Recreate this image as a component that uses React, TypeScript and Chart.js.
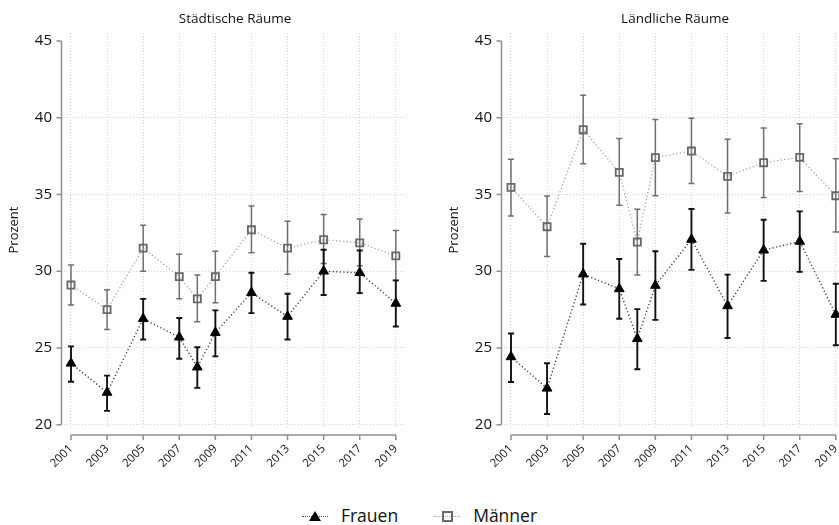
import React, { useEffect, useRef } from "react";
import { Chart, registerables } from "chart.js";

Chart.register(...registerables);

const years = [2001, 2003, 2005, 2007, 2008, 2009, 2011, 2013, 2015, 2017, 2019];
const xTickYears = [2001, 2003, 2005, 2007, 2009, 2011, 2013, 2015, 2017, 2019];
const yTickValues = [20, 25, 30, 35, 40, 45];

const urbanWomen = [24.0, 22.1, 26.9, 25.7, 23.75, 26.0, 28.6, 27.05, 30.0, 29.9, 27.9];
const urbanWomenLow = [22.8, 20.9, 25.55, 24.3, 22.4, 24.45, 27.27, 25.55, 28.45, 28.57, 26.4];
const urbanWomenHigh = [25.1, 23.2, 28.2, 26.95, 25.05, 27.45, 29.9, 28.53, 31.4, 31.35, 29.4];
const urbanMen = [29.1, 27.5, 31.5, 29.65, 28.2, 29.65, 32.7, 31.5, 32.05, 31.85, 31.0];
const urbanMenLow = [27.8, 26.2, 30.0, 28.2, 26.7, 27.95, 31.2, 29.8, 30.5, 30.35, 29.4];
const urbanMenHigh = [30.4, 28.8, 33.0, 31.1, 29.75, 31.3, 34.25, 33.25, 33.7, 33.4, 32.65];

const ruralWomen = [24.42, 22.37, 29.81, 28.85, 25.6, 29.07, 32.07, 27.74, 31.37, 31.94, 27.18];
const ruralWomenLow = [22.78, 20.7, 27.83, 26.9, 23.61, 26.83, 30.09, 25.65, 29.37, 29.96, 25.18];
const ruralWomenHigh = [25.94, 24.0, 31.79, 30.8, 27.53, 31.3, 34.05, 29.78, 33.35, 33.9, 29.18];
const ruralMen = [35.46, 32.9, 39.22, 36.44, 31.9, 37.4, 37.83, 36.18, 37.07, 37.42, 34.92];
const ruralMenLow = [33.6, 30.96, 37.0, 34.3, 29.75, 34.92, 35.72, 33.8, 34.8, 35.2, 32.55];
const ruralMenHigh = [37.3, 34.9, 41.46, 38.64, 34.03, 39.88, 39.96, 38.6, 39.33, 39.6, 37.33];

const FONT = '"Open Sans", "Noto Sans", sans-serif';

type PanelProps = {
  title: string;
  left: number;
  women: number[];
  womenLow: number[];
  womenHigh: number[];
  men: number[];
  menLow: number[];
  menHigh: number[];
};

function Panel(props: PanelProps) {
  const ref = useRef<HTMLCanvasElement>(null);
  useEffect(() => {
    const canvas = ref.current!;
    const { title, women, womenLow, womenHigh, men, menLow, menHigh } = props;

    const errorBars = {
      id: "errorBars",
      beforeDatasetsDraw(chart: any) {
        const ctx = chart.ctx;
        const xs = chart.scales.x;
        const ys = chart.scales.y;
        const sets = [
          { lo: menLow, hi: menHigh, color: "#6f6f6f", width: 1.5 },
          { lo: womenLow, hi: womenHigh, color: "#111", width: 1.9 },
        ];
        ctx.save();
        for (const s of sets) {
          ctx.strokeStyle = s.color;
          ctx.lineWidth = s.width;
          ctx.setLineDash([]);
          years.forEach((yr, i) => {
            const x = xs.getPixelForValue(yr);
            const y1 = ys.getPixelForValue(s.lo[i]);
            const y2 = ys.getPixelForValue(s.hi[i]);
            ctx.beginPath();
            ctx.moveTo(x, y1);
            ctx.lineTo(x, y2);
            ctx.moveTo(x - 3, y1);
            ctx.lineTo(x + 3, y1);
            ctx.moveTo(x - 3, y2);
            ctx.lineTo(x + 3, y2);
            ctx.stroke();
          });
        }
        ctx.restore();
      },
    };

    const axesAndTitle = {
      id: "axesAndTitle",
      afterDraw(chart: any) {
        const ctx = chart.ctx;
        const xs = chart.scales.x;
        const ys = chart.scales.y;
        const ca = chart.chartArea;
        ctx.save();
        ctx.strokeStyle = "#8e8e8e";
        ctx.lineWidth = 1.5;
        ctx.setLineDash([]);
        const ax = ca.left - 2.5;
        const yTop = ys.getPixelForValue(yTickValues[yTickValues.length - 1]);
        const yBot = ys.getPixelForValue(yTickValues[0]);
        ctx.beginPath();
        ctx.moveTo(ax, yTop);
        ctx.lineTo(ax, yBot);
        yTickValues.forEach((v) => {
          const p = ys.getPixelForValue(v);
          ctx.moveTo(ax, p);
          ctx.lineTo(ax - 5, p);
        });
        ctx.stroke();
        const ay = ca.bottom + 8;
        const xL = xs.getPixelForValue(xTickYears[0]);
        const xR = xs.getPixelForValue(xTickYears[xTickYears.length - 1]);
        ctx.beginPath();
        ctx.moveTo(xL, ay);
        ctx.lineTo(xR, ay);
        xTickYears.forEach((v) => {
          const p = xs.getPixelForValue(v);
          ctx.moveTo(p, ay);
          ctx.lineTo(p, ay + 5);
        });
        ctx.stroke();
        ctx.fillStyle = "#111";
        ctx.font = `13.5px ${FONT}`;
        ctx.textAlign = "center";
        ctx.textBaseline = "middle";
        ctx.fillText(title, (ca.left + ca.right) / 2, 19);
        ctx.restore();
      },
    };

    const chart = new Chart(canvas, {
      type: "line",
      data: {
        datasets: [
          {
            label: "Männer",
            data: years.map((x, i) => ({ x, y: men[i] })),
            borderColor: "#a0a0a0",
            borderWidth: 1.3,
            borderDash: [1.2, 2.4],
            pointStyle: "rect",
            pointRadius: 5,
            pointBorderColor: "#676767",
            pointBackgroundColor: "rgba(255,255,255,0)",
            pointBorderWidth: 1.8,
            tension: 0,
            fill: false,
          },
          {
            label: "Frauen",
            data: years.map((x, i) => ({ x, y: women[i] })),
            borderColor: "#3a3a3a",
            borderWidth: 1.4,
            borderDash: [1.2, 2.4],
            pointStyle: "triangle",
            pointRadius: 5.6,
            pointBorderColor: "#000",
            pointBackgroundColor: "#000",
            pointBorderWidth: 1,
            tension: 0,
            fill: false,
          },
        ],
      },
      options: {
        animation: false,
        responsive: true,
        maintainAspectRatio: false,
        events: [],
        layout: { padding: { top: 33, right: 14, bottom: 0, left: 0 } },
        plugins: {
          legend: { display: false },
          tooltip: { enabled: false },
          title: { display: false },
        },
        scales: {
          x: {
            type: "linear",
            min: 2000.613,
            max: 2019.57,
            afterBuildTicks: (s: any) => {
              s.ticks = xTickYears.map((v) => ({ value: v }));
            },
            afterFit: (s: any) => {
              s.height = 43;
            },
            ticks: {
              autoSkip: false,
              maxRotation: 45,
              minRotation: 45,
              padding: 15,
              color: "#111",
              font: { family: FONT, size: 11.5 },
              callback: (v: any) => String(v),
            },
            grid: { color: "#d2d2d2", lineWidth: 1, drawTicks: false },
            border: { display: false, dash: [1, 2] },
          },
          y: {
            type: "linear",
            min: 19.85,
            max: 45.52,
            afterBuildTicks: (s: any) => {
              s.ticks = yTickValues.map((v) => ({ value: v }));
            },
            afterFit: (s: any) => {
              s.width = 64;
            },
            ticks: {
              padding: 12,
              color: "#111",
              font: { family: FONT, size: 15 },
              callback: (v: any) => String(v),
            },
            title: {
              display: true,
              text: "Prozent",
              color: "#111",
              font: { family: FONT, size: 13 },
              padding: { top: 6.7, bottom: 0 },
            },
            grid: {
              color: (c: any) => (c.tick && c.tick.value === 45 ? "rgba(0,0,0,0)" : "#d2d2d2"),
              lineWidth: 1,
              drawTicks: false,
            },
            border: { display: false, dash: [1, 2] },
          },
        },
      },
      plugins: [errorBars, axesAndTitle],
    } as any);
    return () => chart.destroy();
  }, []);
  return (
    <div style={{ position: "absolute", left: props.left, top: 0, width: 421, height: 470 }}>
      <canvas ref={ref} />
    </div>
  );
}

function LegendItem({ kind, label }: { kind: "triangle" | "square"; label: string }) {
  const marker =
    kind === "triangle" ? (
      <span
        style={{
          position: "absolute",
          left: 7,
          top: 3,
          width: 0,
          height: 0,
          borderLeft: "6px solid transparent",
          borderRight: "6px solid transparent",
          borderBottom: "10px solid #000",
        }}
      />
    ) : (
      <span
        style={{
          position: "absolute",
          left: 8,
          top: 3,
          width: 7,
          height: 7,
          border: "2px solid #6a6a6a",
          background: "transparent",
        }}
      />
    );
  return (
    <div style={{ display: "flex", alignItems: "center" }}>
      <span style={{ position: "relative", width: 26, height: 15, display: "inline-block" }}>
        <span
          style={{
            position: "absolute",
            left: 0,
            right: 0,
            top: 8,
            borderTop: `1.5px dotted ${kind === "triangle" ? "#555" : "#aaa"}`,
          }}
        />
        {marker}
      </span>
      <span style={{ marginLeft: 13, fontFamily: FONT, fontSize: 17.5, color: "#111", lineHeight: "20px" }}>
        {label}
      </span>
    </div>
  );
}

export default function App() {
  return (
    <div
      style={{
        position: "fixed",
        left: 0,
        top: 0,
        width: 839,
        height: 525,
        overflow: "hidden",
        background: "#fff",
      }}
    >
      <Panel
        title="Städtische Räume"
        left={0}
        women={urbanWomen}
        womenLow={urbanWomenLow}
        womenHigh={urbanWomenHigh}
        men={urbanMen}
        menLow={urbanMenLow}
        menHigh={urbanMenHigh}
      />
      <Panel
        title="Ländliche Räume"
        left={440}
        women={ruralWomen}
        womenLow={ruralWomenLow}
        womenHigh={ruralWomenHigh}
        men={ruralMen}
        menLow={ruralMenLow}
        menHigh={ruralMenHigh}
      />
      <div
        style={{
          position: "absolute",
          left: 0,
          top: 505,
          width: 839,
          display: "flex",
          justifyContent: "center",
          gap: 36,
        }}
      >
        <LegendItem kind="triangle" label="Frauen" />
        <LegendItem kind="square" label="Männer" />
      </div>
    </div>
  );
}
